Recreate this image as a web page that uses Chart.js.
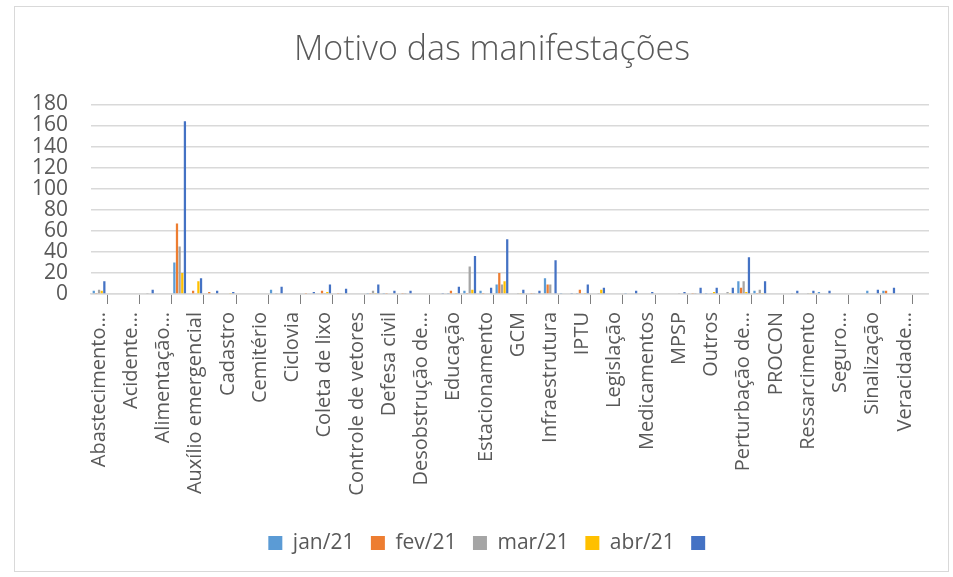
<!DOCTYPE html>
<html>
<head>
<meta charset="utf-8">
<script src="https://cdn.jsdelivr.net/npm/chart.js@4.4.1/dist/chart.umd.min.js"></script>
<style>
  html, body { margin: 0; padding: 0; background: #fff; }
  #wrap { position: relative; width: 953px; height: 577px; }
  #frame { position: absolute; left: 14px; top: 6px; width: 933px; height: 564px; border: 1px solid #d9d9d9; pointer-events: none; }
</style>
</head>
<body>
<div id="wrap">
  <canvas id="chart" width="953" height="577"></canvas>
  <div id="frame"></div>
</div>
<script>
const categories = [
  'Abastecimento…', 'Acessibilidade', 'Acidente…', 'Água', 'Alimentação…', 'Atendimento',
  'Auxílio emergencial', 'Bolsa família', 'Cadastro', 'Calçada', 'Cemitério', 'Ciclofaixa',
  'Ciclovia', 'Coleta de entulho', 'Coleta de lixo', 'Comércio', 'Controle de vetores', 'Cultura',
  'Defesa civil', 'Denúncia', 'Desobstrução de…', 'Drenagem', 'Educação', 'Esgoto',
  'Estacionamento', 'Fiscalização', 'GCM', 'Iluminação pública', 'Infraestrutura', 'Inscrição',
  'IPTU', 'Lazer', 'Legislação', 'Limpeza', 'Medicamentos', 'Meio ambiente',
  'MPSP', 'Obras', 'Outros', 'Parques', 'Perturbação de…', 'Poda de árvores',
  'PROCON', 'Protocolo', 'Ressarcimento', 'Saúde', 'Seguro…', 'Serviço funerário',
  'Sinalização', 'Transporte', 'Veracidade…', 'Zeladoria'
];

const seriesNames = ['jan/21', 'fev/21', 'mar/21', 'abr/21', ''];

const jan21 = [3, 0, 0, 0, 0, 30, 0, 0, 0, 0, 0, 4, 0, 0, 0, 0, 0, 1, 1, 0, 0, 0, 1, 3, 3, 9,
  0, 0, 15, 1, 1, 0, 0, 1, 0, 0, 0, 0, 1, 0, 12, 3, 0, 0, 0, 2, 0, 0, 3, 3, 0, 0];
const fev21 = [1, 0, 0, 0, 0, 67, 3, 2, 0, 0, 0, 0, 0, 1, 3, 1, 0, 1, 1, 1, 0, 0, 3, 1, 1, 20,
  0, 1, 9, 0, 4, 0, 0, 0, 0, 0, 0, 1, 0, 0, 6, 1, 0, 0, 0, 0, 0, 0, 0, 3, 0, 0];
const mar21 = [4, 0, 0, 1, 0, 45, 0, 0, 0, 0, 0, 1, 0, 0, 1, 1, 0, 3, 0, 1, 0, 0, 0, 26, 0, 9,
  1, 1, 9, 0, 0, 1, 0, 0, 0, 0, 1, 1, 1, 2, 12, 4, 0, 1, 1, 0, 0, 0, 0, 0, 0, 0];
const abr21 = [3, 0, 0, 0, 0, 20, 12, 0, 1, 0, 0, 0, 0, 0, 2, 0, 0, 1, 0, 0, 0, 0, 1, 4, 0, 12,
  1, 0, 0, 0, 1, 4, 0, 0, 0, 0, 0, 0, 2, 1, 2, 1, 0, 0, 1, 0, 0, 0, 0, 0, 0, 0];
const semNome = [12, 0, 0, 4, 0, 164, 15, 3, 2, 0, 0, 7, 0, 2, 9, 5, 0, 9, 3, 3, 0, 1, 7, 36, 6, 52,
  4, 3, 32, 1, 9, 6, 0, 3, 2, 0, 2, 6, 6, 6, 35, 12, 0, 3, 3, 3, 0, 0, 4, 6, 0, 0];

const seriesColors = ['#5B9BD5', '#ED7D31', '#A5A5A5', '#FFC000', '#4472C4'];
const yTicks = { min: 0, max: 180, step: 20 };

const font = 'Open Sans';
const textColor = '#595959';

const values = [jan21, fev21, mar21, abr21, semNome];
const datasets = values.map((v, i) => ({
  label: seriesNames[i],
  data: v,
  backgroundColor: seriesColors[i],
  borderWidth: 0,
  categoryPercentage: 0.82,
  barPercentage: 0.85
}));

new Chart(document.getElementById('chart'), {
  type: 'bar',
  data: { labels: categories, datasets },
  options: {
    responsive: false,
    animation: false,
    layout: { padding: { left: 31, right: 0, top: 0, bottom: 13.5 } },
    plugins: {
      title: {
        display: true,
        text: 'Motivo das manifestações',
        color: textColor,
        font: { family: font, size: 34, weight: 300 },
        padding: { top: 30, bottom: 33.6 }
      },
      legend: {
        position: 'bottom',
        labels: {
          color: textColor,
          font: { family: font, size: 21 },
          boxWidth: 14,
          boxHeight: 14,
          padding: 16.5
        }
      },
      tooltip: { enabled: false }
    },
    scales: {
      x: {
        afterFit: s => { s.height = 222; },
        grid: {
          offset: true,
          drawOnChartArea: false,
          drawTicks: true,
          tickLength: 10,
          color: c => (c.index % 2 === 1 ? '#7f7f7f' : 'rgba(0,0,0,0)')
        },
        border: { color: '#d9d9d9', width: 1.5 },
        ticks: {
          autoSkip: false,
          minRotation: 90,
          maxRotation: 90,
          padding: 8,
          color: textColor,
          font: { family: font, size: 20 },
          callback: function (val, i) { return i % 2 === 0 ? this.getLabelForValue(val) : ''; }
        }
      },
      y: {
        min: yTicks.min,
        max: yTicks.max,
        afterFit: s => { s.width = 60; },
        grid: { color: '#d9d9d9', lineWidth: 1.5, drawTicks: false },
        border: { display: false },
        ticks: {
          stepSize: yTicks.step,
          autoSkip: false,
          padding: 23,
          color: textColor,
          font: { family: font, size: 21 }
        }
      },
      // empty right-hand strip, keeps the plot edge at x=945
      yRight: {
        type: 'linear',
        position: 'right',
        afterFit: s => { s.width = 8; },
        grid: { display: false },
        border: { display: false },
        ticks: { display: false }
      }
    }
  }
});
</script>
</body>
</html>
